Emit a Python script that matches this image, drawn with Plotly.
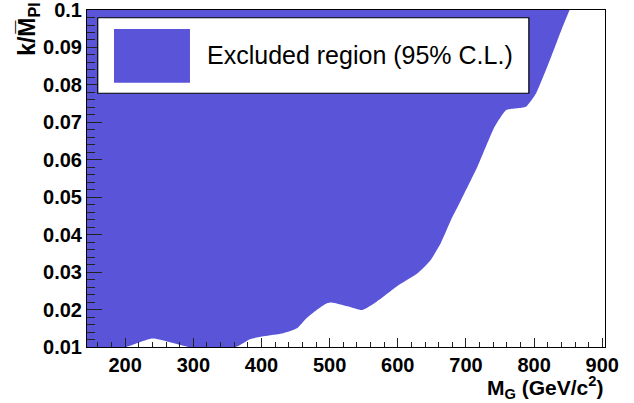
import plotly.graph_objects as go

# Exclusion boundary (lower edge of excluded region)
mass = [130, 200, 240, 295, 362, 383, 403, 432, 452, 466, 481, 496, 503, 526, 548,
        569, 602, 629, 648, 663, 678, 693, 717, 742, 759, 775, 788, 803, 825, 840, 852]
coupling = [0.0100, 0.0100, 0.0123, 0.0100, 0.0100, 0.0121, 0.0129, 0.0137, 0.0150,
            0.0177, 0.0199, 0.0217, 0.0219, 0.0209, 0.0199, 0.0221, 0.0266, 0.0297,
            0.0332, 0.0377, 0.0439, 0.0493, 0.0582, 0.0688, 0.0733, 0.0738, 0.0742,
            0.0778, 0.0875, 0.0947, 0.1000]
top_edge_x = [130, 852]
top_edge_y = [0.1, 0.1]

y_ticks = [0.01, 0.02, 0.03, 0.04, 0.05, 0.06, 0.07, 0.08, 0.09, 0.1]
y_ticktext = ["0.01", "0.02", "0.03", "0.04", "0.05", "0.06", "0.07", "0.08", "0.09", "0.1"]
x_ticks = [200, 300, 400, 500, 600, 700, 800, 900]

FILL = "#5954d8"
FONT = "Liberation Sans, Arial, Helvetica, sans-serif"

fig = go.Figure()
fig.add_trace(go.Scatter(x=top_edge_x, y=top_edge_y, mode="lines",
                         line=dict(width=0, color=FILL), showlegend=False,
                         hoverinfo="skip"))
fig.add_trace(go.Scatter(x=mass, y=coupling, mode="lines", fill="tonexty",
                         fillcolor=FILL, line=dict(width=0, color=FILL, shape="spline",
                                                   smoothing=0.5),
                         showlegend=False, name="Excluded region (95% C.L.)"))

fig.update_layout(
    width=634, height=403,
    margin=dict(l=87, r=29, t=10, b=56, autoexpand=False),
    paper_bgcolor="white", plot_bgcolor="white",
    font=dict(family=FONT, color="black"),
    showlegend=False,
    xaxis=dict(range=[144, 904], tickvals=x_ticks, ticks="inside", ticklen=9,
               tickcolor="#222", tickwidth=1, automargin=False,
               minor=dict(dtick=20, ticks="inside", ticklen=5, tickcolor="#222"),
               showgrid=False, zeroline=False, showline=True, linecolor="black",
               linewidth=1, mirror=True,
               tickfont=dict(family=FONT, size=20, color="black", weight="bold")),
    yaxis=dict(range=[0.01, 0.10001], tickvals=y_ticks, ticktext=y_ticktext,
               ticks="inside", ticklen=15, tickcolor="#222", tickwidth=1,
               automargin=False, ticklabeloverflow="allow",
               minor=dict(dtick=0.002, ticks="inside", ticklen=8, tickcolor="#222"),
               showgrid=False, zeroline=False, showline=True, linecolor="black",
               linewidth=1, mirror=True,
               tickfont=dict(family=FONT, size=20, color="black", weight="bold")),
)

# Legend box (drawn manually to match the ROOT style)
fig.add_shape(type="rect", xref="paper", yref="paper", x0=0.0207, x1=0.853,
              y0=0.753, y1=0.977, fillcolor="white",
              line=dict(color="black", width=1.2), layer="above")
fig.add_shape(type="rect", xref="paper", yref="paper", x0=0.0521, x1=0.1988,
              y0=0.7843, y1=0.9436, fillcolor=FILL, line=dict(width=0),
              layer="above")
fig.add_annotation(xref="paper", yref="paper", x=0.227, y=0.865,
                   xanchor="left", yanchor="middle", showarrow=False,
                   text="Excluded region (95% C.L.)",
                   font=dict(family=FONT, size=25, color="black"))

# Axis titles
fig.add_annotation(xref="paper", yref="paper", x=1.0, y=-0.072,
                   xanchor="right", yanchor="top", showarrow=False,
                   text="M<sub>G</sub> (GeV/c<sup>2</sup>)",
                   font=dict(family=FONT, size=21, color="black", weight="bold"))
fig.add_annotation(xref="paper", yref="paper", x=-0.112, y=1.03,
                   xanchor="center", yanchor="top", showarrow=False,
                   textangle=-90,
                   text="k/M\u0305<sub>Pl</sub>",
                   font=dict(family=FONT, size=23, color="black", weight="bold"))

fig.write_html("out.html", config={"displayModeBar": False},
               post_script="document.body.style.margin='0';document.body.style.padding='0';")
